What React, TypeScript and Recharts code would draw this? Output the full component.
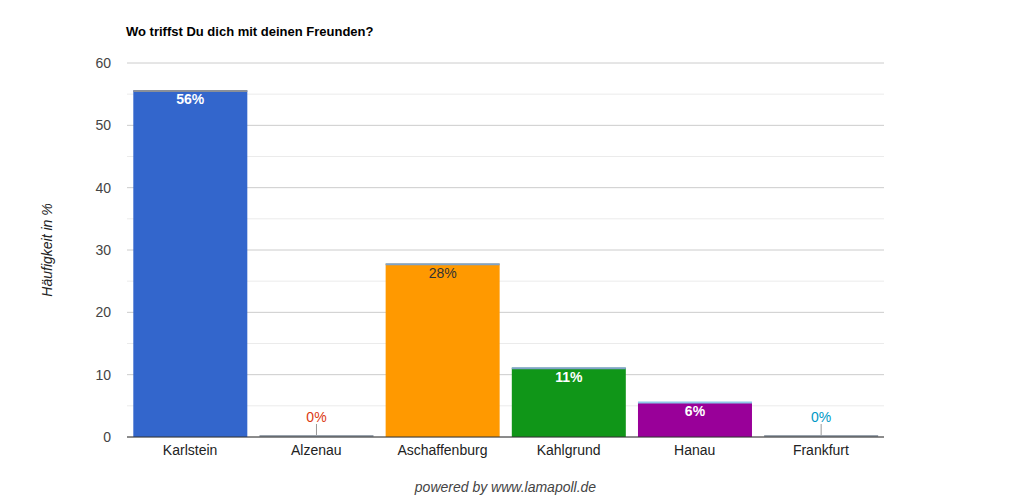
import React from "react"
import { BarChart, Bar, XAxis, YAxis, CartesianGrid } from "recharts"

const categories = ["Karlstein", "Alzenau", "Aschaffenburg", "Kahlgrund", "Hanau", "Frankfurt"]
const values = [55.6, 0, 27.8, 11.1, 5.6, 0]
const colors = ["#3366cc", "#dc3912", "#ff9900", "#109618", "#990099", "#0099c6"]
const topColors = ["#8a8f99", "#8c9aa8", "#7fa3c8", "#7fa3c8", "#8ec8e8", "#8c9aa8"]
const labelColors = ["#ffffff", "#dc3912", "#333333", "#ffffff", "#ffffff", "#0099c6"]
const labelBold = [true, false, false, true, true, false]
const yTicks = [0, 10, 20, 30, 40, 50, 60]
const minorTicks = [5, 15, 25, 35, 45, 55]

const data = categories.map((name, i) => ({ name, value: values[i] }))

const FONT = "'Liberation Sans', Arial, sans-serif"

const BarShape = (props: any) => {
  const { x, y, width, height, index, value } = props
  const v = Array.isArray(value) ? value[1] - value[0] : value
  const text = `${Math.round(v)}%`
  const cx = x + width / 2
  if (!v) {
    return (
      <g>
        <line x1={x} x2={x + width} y1={y - 1} y2={y - 1} stroke="#9aa3ad" strokeWidth={2} />
        <line x1={cx} x2={cx} y1={y - 2} y2={y - 13} stroke="#999" strokeWidth={1} />
        <text x={cx} y={y - 15} textAnchor="middle" fontSize={14} fontFamily={FONT} fill={labelColors[index]}>
          {text}
        </text>
      </g>
    )
  }
  return (
    <g>
      <rect x={x} y={y} width={width} height={height} fill={colors[index]} />
      <line x1={x} x2={x + width} y1={y + 0.5} y2={y + 0.5} stroke={topColors[index]} strokeWidth={2} />
      <text
        x={cx}
        y={y + 14}
        textAnchor="middle"
        fontSize={14}
        fontFamily={FONT}
        fontWeight={labelBold[index] ? "bold" : "normal"}
        fill={labelColors[index]}
      >
        {text}
      </text>
    </g>
  )
}

export default function App() {
  return (
    <div style={{ position: "absolute", left: 0, top: 0, width: 1011, height: 500, background: "#fff", fontFamily: FONT }}>
      <div style={{ position: "absolute", left: 126, top: 24, fontSize: 13, fontWeight: "bold", color: "#000" }}>
        Wo triffst Du dich mit deinen Freunden?
      </div>
      <div
        style={{
          position: "absolute",
          left: 47,
          top: 250,
          transform: "translate(-50%, -50%) rotate(-90deg)",
          fontSize: 14,
          fontStyle: "italic",
          color: "#222",
          whiteSpace: "nowrap",
        }}
      >
        Häufigkeit in %
      </div>
      <div
        style={{
          position: "absolute",
          left: 0,
          width: 1011,
          top: 479,
          textAlign: "center",
          fontSize: 14,
          fontStyle: "italic",
          color: "#444",
        }}
      >
        powered by www.lamapoll.de
      </div>
      <BarChart
        width={1011}
        height={500}
        data={data}
        margin={{ top: 63, right: 127, left: 67, bottom: 33 }}
        barCategoryGap="5%"
      >
        <CartesianGrid vertical={false} stroke="#ebebeb" horizontalValues={minorTicks} />
        <CartesianGrid vertical={false} stroke="#cccccc" />
        <XAxis
          dataKey="name"
          height={30}
          tickLine={false}
          tickSize={0}
          tickMargin={8}
          axisLine={{ stroke: "#333" }}
          tick={{ fill: "#222", fontSize: 14, fontFamily: FONT }}
          interval={0}
        />
        <YAxis
          width={60}
          domain={[0, 60]}
          ticks={yTicks}
          axisLine={false}
          tickLine={false}
          tickSize={0}
          tickMargin={16}
          tick={{ fill: "#444", fontSize: 14, fontFamily: FONT }}
        />
        <Bar dataKey="value" isAnimationActive={false} shape={BarShape} />
      </BarChart>
    </div>
  )
}
